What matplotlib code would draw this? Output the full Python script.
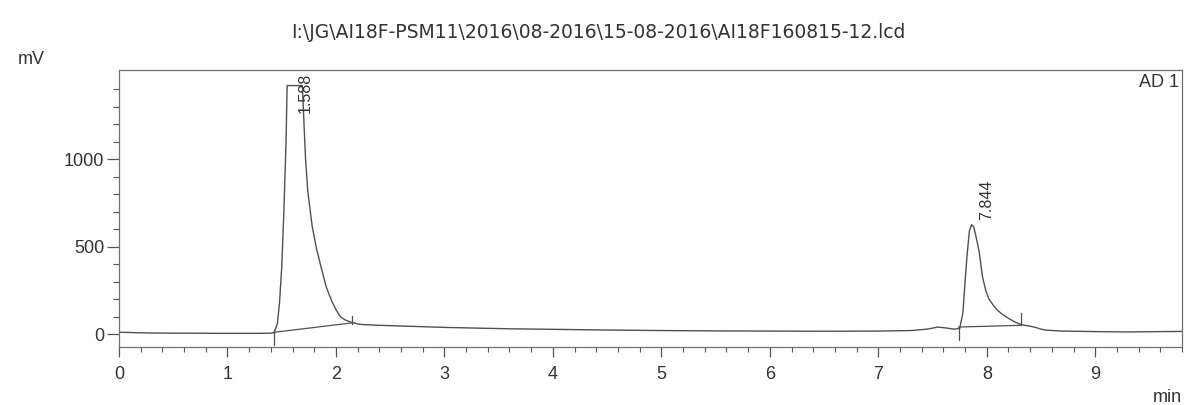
import matplotlib
matplotlib.use("Agg")
import matplotlib.pyplot as plt
from matplotlib.ticker import MultipleLocator, FixedLocator

plt.rcParams['font.family'] = ['Liberation Sans', 'DejaVu Sans']

title = r"I:\JG\AI18F-PSM11\2016\08-2016\15-08-2016\AI18F160815-12.lcd"

# chromatogram trace (min, mV)
time_min = [0.00, 0.10, 0.20, 0.30, 0.50, 0.70, 0.90, 1.10, 1.30, 1.40, 1.43,
            1.46, 1.48, 1.50, 1.52, 1.54, 1.55, 1.69, 1.70, 1.72, 1.74, 1.78,
            1.82, 1.86, 1.91, 1.96, 2.00, 2.04, 2.08, 2.13, 2.17, 2.20, 2.25,
            2.40, 2.60, 2.80, 3.00, 3.30, 3.60, 4.00, 4.50, 5.00, 5.50, 6.00,
            6.50, 7.00, 7.30, 7.45, 7.55, 7.62, 7.70, 7.75, 7.78, 7.80, 7.82,
            7.84, 7.86, 7.88, 7.90, 7.93, 7.96, 7.99, 8.02, 8.06, 8.10, 8.15,
            8.20, 8.25, 8.30, 8.35, 8.40, 8.45, 8.50, 8.55, 8.70, 9.00, 9.30,
            9.60, 9.80]
signal_mv = [10, 9, 7, 6, 5, 5, 4, 4, 4, 5, 8,
             60, 180, 380, 700, 1100, 1420, 1420, 1280, 1000, 820, 620,
             490, 390, 270, 190, 140, 100, 82, 70, 64, 58, 54,
             50, 46, 42, 38, 34, 30, 27, 23, 20, 18, 17,
             16, 17, 20, 28, 40, 35, 28, 32, 120, 300, 460,
             590, 625, 612, 560, 470, 330, 250, 200, 165, 135, 110,
             90, 72, 58, 50, 45, 38, 28, 22, 17, 14, 12,
             14, 15]

# integration baselines (start/end time, start/end mV)
base_t = [[1.43, 2.15], [7.74, 8.32]]
base_mv = [[10, 64], [40, 50]]

# integration markers (time, mV from, mV to)
mark_t = [1.43, 2.15, 7.74, 8.32]
mark_lo = [-60, 55, -35, 50]
mark_hi = [25, 105, 40, 120]

# peak labels
peak_names = ["1.588", "7.844"]
peak_label_t = [1.72, 8.00]
peak_label_mv = [1265, 652]

fig = plt.figure(figsize=(11.84, 4.05), dpi=100)
ax = fig.add_axes([119/1184, 1 - 347/405, (1182 - 119)/1184, (347 - 70)/405])

lc = '#505050'
ax.plot(time_min, signal_mv, color=lc, lw=1.0)
for bt, bm in zip(base_t, base_mv):
    ax.plot(bt, bm, color=lc, lw=0.9)
for t, lo, hi in zip(mark_t, mark_lo, mark_hi):
    ax.plot([t, t], [lo, hi], color=lc, lw=0.9)
for name, t, v in zip(peak_names, peak_label_t, peak_label_mv):
    ax.text(t, v, name, rotation=90, ha='center', va='bottom', fontsize=11.5, color='#333333')

ax.set_xlim(0, 9.8)
ax.set_ylim(-74, 1509)

ax.xaxis.set_major_locator(MultipleLocator(1))
ax.xaxis.set_minor_locator(MultipleLocator(0.2))
ax.yaxis.set_major_locator(FixedLocator([0, 500, 1000]))
ax.yaxis.set_minor_locator(FixedLocator([100, 200, 300, 400, 600, 700, 800, 900, 1100, 1200, 1300, 1400]))

ax.tick_params(axis='y', which='major', length=9, width=0.9, pad=1.5, labelsize=13, colors='#555555', labelcolor='#333333')
ax.tick_params(axis='y', which='minor', length=4.5, width=0.8, colors='#555555')
ax.tick_params(axis='x', which='major', length=7.5, width=0.9, pad=6, labelsize=13, colors='#555555', labelcolor='#333333')
ax.tick_params(axis='x', which='minor', length=3.5, width=0.8, colors='#555555')

for s in ax.spines.values():
    s.set_color('#707070')
    s.set_linewidth(0.9)

fig.text(598/1184, 1 - 32/405, title, ha='center', va='center', fontsize=13.5,
         family=['DejaVu Sans'], color='#333333')
fig.text(18/1184, 1 - 60/405, 'mV', ha='left', va='center', fontsize=13, color='#333333')
fig.text(1182/1184, 1 - 397/405, 'min', ha='right', va='center', fontsize=13, color='#333333')
ax.text(0.997, 0.955, 'AD 1', transform=ax.transAxes, ha='right', va='center', fontsize=13, color='#333333')

fig.savefig('out.png', dpi=100)
